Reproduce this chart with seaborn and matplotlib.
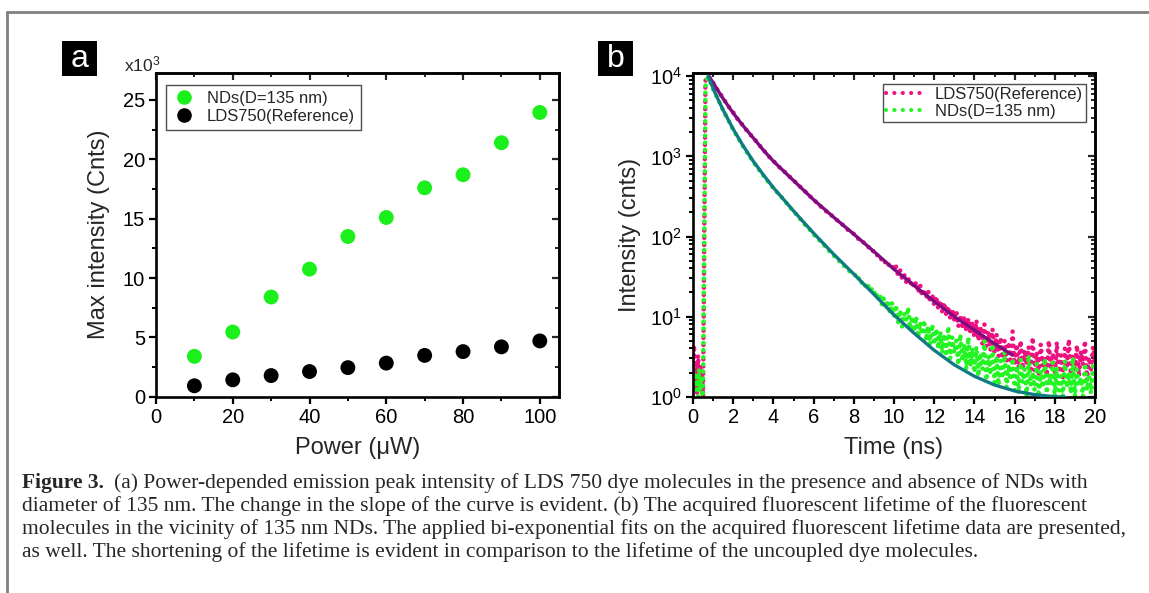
import numpy as np
import pandas as pd
import matplotlib
matplotlib.use("Agg")
import matplotlib.pyplot as plt
import seaborn as sns
from matplotlib.lines import Line2D
from matplotlib.patches import Rectangle
from matplotlib.ticker import MultipleLocator, LogLocator, NullFormatter, LogFormatterMathtext

# ---------------- Panel a data ----------------
power_uw = [10, 20, 30, 40, 50, 60, 70, 80, 90, 100]
nds_max_k = [3.4, 5.45, 8.4, 10.75, 13.5, 15.1, 17.6, 18.7, 21.4, 23.95]
lds_max_k = [0.92, 1.42, 1.78, 2.12, 2.45, 2.83, 3.48, 3.8, 4.2, 4.7]
label_nds = "NDs(D=135 nm)"
label_lds = "LDS750(Reference)"

# ---------------- Panel b data ----------------
t_pre = [0.0, 0.05, 0.1, 0.15, 0.2, 0.25, 0.3, 0.35, 0.4, 0.45, 0.5]
t_rise = [0.62, 0.72, 0.8]
t_mid = [1.0, 1.25, 1.5, 1.75, 2.0, 2.25, 2.5, 2.75, 3.0, 3.25, 3.5, 3.75, 4.0, 4.25,
         4.5, 4.75, 5.0, 5.25, 5.5, 5.75, 6.0, 6.25, 6.5, 6.75, 7.0, 7.25, 7.5, 7.75, 8.0]
t_tail = np.round(np.arange(8.1, 20.001, 0.1), 1)

lds_pre = [2.2, 4.4, 1.4, 2.8, 1.1, 3.3, 1.7, 2.5, 1.2, 2.0, 1.0]
lds_rise = [8800, 10100, 9800]
lds_mid = [8300, 6600, 5350, 4250, 3550, 2850, 2420, 1980, 1720, 1430, 1210, 1010, 880, 750,
           665, 575, 505, 435, 385, 328, 292, 248, 222, 192, 177, 152, 137, 118, 108]
lds_tail = [104, 94, 93, 85, 84, 77, 76, 69, 70, 63,
            64, 56, 57, 50, 52, 45, 47, 41, 43, 38,
            42, 33, 38, 30, 34, 27, 31, 25, 28, 23,
            27, 20, 25, 18, 22, 17, 21, 15, 19, 14,
            18, 12.5, 16, 11.5, 15, 10.5, 13.5, 9.5, 12.5, 9,
            12, 7.5, 10.5, 7, 10, 6.5, 9.5, 6, 8.5, 5.5,
            9, 5, 7.5, 4.5, 8, 4.2, 6.5, 3.8, 7, 3.5,
            6, 3.2, 5.5, 3, 5, 2.8, 4.8, 2.6, 6.5, 2.5,
            4.5, 2.3, 5, 2.2, 3.8, 2.5, 4.2, 2, 5.5, 2.1,
            3.6, 1.9, 4.5, 2.4, 3.2, 1.8, 5, 2.2, 3.5, 1.7,
            4.8, 2.0, 3.3, 1.6, 4.0, 2.3, 5.2, 1.9, 3.4, 2.1,
            4.4, 1.8, 3.7, 2.5, 5.0, 1.6, 3.1, 2.2, 4.2, 2.6]

nds_pre = [1.5, 1.1, 2.0, 1.3, 1.8, 1.0, 2.2, 1.2, 1.6, 1.0, 1.1]
nds_rise = [8200, 9600, 9300]
nds_mid = [6900, 5150, 3750, 2850, 2150, 1680, 1320, 1060, 850, 695, 575, 478, 398, 342,
           292, 243, 205, 176, 146, 127, 106, 92, 79, 67, 58, 50, 43.5, 37.5, 33]
nds_tail = [33, 29, 31, 26, 27, 23, 25, 21, 22, 19,
            21, 16, 19, 14, 17, 13, 16, 11, 15, 10,
            14, 8.5, 12, 7.5, 11, 9, 13, 7, 10, 6.5,
            10, 5.5, 8.5, 6, 9, 5, 7.5, 4.5, 8, 4.5,
            7, 4, 6.5, 3.5, 6, 3.2, 7.5, 3, 5.5, 3.5,
            5, 2.5, 6, 2.8, 4.5, 2.2, 5.5, 2.4, 4, 2,
            4.2, 1.8, 3.5, 2.2, 5, 1.6, 3.2, 1.9, 4.5, 1.5,
            3.2, 1.4, 2.8, 1.7, 3.6, 1.3, 2.5, 1.6, 3.0, 1.2,
            2.4, 1.1, 2.9, 1.5, 2.2, 1.0, 3.3, 1.4, 2.0, 1.2,
            2.6, 1.0, 2.1, 1.3, 3.0, 1.1, 1.9, 1.4, 2.7, 1.0,
            2.3, 1.2, 1.8, 1.0, 2.8, 1.3, 2.0, 1.1, 3.1, 1.0,
            2.2, 1.4, 1.7, 1.0, 2.6, 1.2, 1.9, 1.1, 2.4, 1.3]

lds_fit_t = [0.8, 1.0, 1.25, 1.5, 2.0, 2.5, 3.0, 3.5, 4.0, 5.0, 6.0, 7.0, 8.0, 9.0, 10.0,
             11.0, 12.0, 13.0, 14.0, 15.0, 15.9]
lds_fit_y = [10000, 8300, 6600, 5250, 3470, 2400, 1700, 1200, 870, 500, 288, 174, 107, 65,
             39, 24.5, 15.5, 10.0, 6.8, 4.6, 3.3]
nds_fit_t = [0.75, 1.0, 1.25, 1.5, 2.0, 2.5, 3.0, 3.5, 4.0, 5.0, 6.0, 7.0, 8.0, 9.0, 10.0,
             11.0, 12.0, 13.0, 14.0, 15.0, 16.0, 17.0, 18.0, 18.5]
nds_fit_y = [10000, 7080, 5130, 3800, 2190, 1350, 870, 590, 407, 209, 110, 60, 34, 19, 10.5,
             6.2, 3.8, 2.5, 1.8, 1.4, 1.18, 1.06, 1.0, 0.99]

caption_lines = [
    "(a) Power-depended emission peak intensity of LDS 750 dye molecules in the presence and absence of NDs with",
    "diameter of 135 nm. The change in the slope of the curve is evident. (b) The acquired fluorescent lifetime of the fluorescent",
    "molecules in the vicinity of 135 nm NDs. The applied bi-exponential fits on the acquired fluorescent lifetime data are presented,",
    "as well. The shortening of the lifetime is evident in comparison to the lifetime of the uncoupled dye molecules.",
]

# ---------------- style ----------------
sns.set_theme(style="ticks")
plt.rcParams["font.family"] = ["Liberation Sans", "DejaVu Sans"]
plt.rcParams["mathtext.fontset"] = "custom"
plt.rcParams["mathtext.rm"] = "Liberation Sans"
plt.rcParams["mathtext.it"] = "Liberation Sans:italic"
plt.rcParams["mathtext.bf"] = "Liberation Sans:bold"

GREEN_A = "#1cf01c"
PINK = "#ee1280"
GREEN_B = "#22f522"
PURPLE = "#800a80"
TEAL = "#0e7c82"

W, H = 1149, 593
fig = plt.figure(figsize=(W / 100, H / 100), dpi=100)
fig.patch.set_facecolor("white")


def fx(px):
    return px / W


def fy(py):
    return 1 - py / H


# frame of the figure
fig.add_artist(Line2D([fx(7), fx(7)], [fy(12), 0], transform=fig.transFigure, color="#808080", lw=2))
fig.add_artist(Line2D([fx(7), 1], [fy(12), fy(12)], transform=fig.transFigure, color="#808080", lw=2))

ax_a = fig.add_axes([fx(156), fy(396.7), (559 - 156) / W, (396.7 - 72.7) / H])
ax_b = fig.add_axes([fx(693), fy(396.7), (1095 - 693) / W, (396.7 - 73) / H])


def style_axes(ax):
    for s in ax.spines.values():
        s.set_linewidth(1.9)
        s.set_color("black")
        s.set_visible(True)
    ax.set_facecolor("white")
    ax.grid(False)
    ax.tick_params(which="major", direction="out", length=5, width=1.6, labelsize=14.5,
                   pad=3, top=False, right=False, colors="black")
    ax.tick_params(which="minor", direction="out", length=3, width=1.4, top=False, right=False,
                   colors="black")


def mirror(ax, major_x, minor_x, major_y, minor_y):
    sx = ax.secondary_xaxis("top")
    sx.xaxis.set_major_locator(major_x)
    sx.xaxis.set_minor_locator(minor_x)
    sx.xaxis.set_major_formatter(NullFormatter())
    sx.xaxis.set_minor_formatter(NullFormatter())
    sx.tick_params(which="major", direction="in", length=5, width=1.6)
    sx.tick_params(which="minor", direction="in", length=3, width=1.4)
    sx.spines["top"].set_linewidth(1.9)
    sy = ax.secondary_yaxis("right")
    sy.yaxis.set_major_locator(major_y)
    sy.yaxis.set_minor_locator(minor_y)
    sy.yaxis.set_major_formatter(NullFormatter())
    sy.yaxis.set_minor_formatter(NullFormatter())
    sy.tick_params(which="major", direction="in", length=5, width=1.6)
    sy.tick_params(which="minor", direction="in", length=3, width=1.4)
    sy.spines["right"].set_linewidth(1.9)


# ---------------- Panel a ----------------
df_a = pd.DataFrame({
    "Power": power_uw + power_uw,
    "Intensity": nds_max_k + lds_max_k,
    "Series": [label_nds] * len(power_uw) + [label_lds] * len(power_uw),
})
sns.scatterplot(data=df_a, x="Power", y="Intensity", hue="Series",
                palette={label_nds: GREEN_A, label_lds: "black"},
                s=115, linewidth=0, ax=ax_a, legend=False, zorder=3)
ax_a.set_xlim(0, 105)
ax_a.set_ylim(0, 27.3)
style_axes(ax_a)
ax_a.xaxis.set_major_locator(MultipleLocator(20))
ax_a.xaxis.set_minor_locator(MultipleLocator(10))
ax_a.yaxis.set_major_locator(MultipleLocator(5))
ax_a.yaxis.set_minor_locator(MultipleLocator(2.5))
ax_a.set_xlabel("Power (\u03bcW)", fontsize=17)
ax_a.set_ylabel("Max intensity (Cnts)", fontsize=17)
ax_a.xaxis.set_label_coords(0.5, -0.125)
ax_a.yaxis.set_label_coords(-0.115, 0.5)
mirror(ax_a, MultipleLocator(20), MultipleLocator(10), MultipleLocator(5), MultipleLocator(2.5))

handles_a = [
    Line2D([], [], marker="o", linestyle="none", markersize=10.5, markerfacecolor=GREEN_A,
           markeredgewidth=0, label=label_nds),
    Line2D([], [], marker="o", linestyle="none", markersize=10.5, markerfacecolor="black",
           markeredgewidth=0, label=label_lds),
]
leg_a = ax_a.legend(handles=handles_a, loc="upper left", bbox_to_anchor=(fx(166), fy(85)),
                    bbox_transform=fig.transFigure, fontsize=12, frameon=True, fancybox=False,
                    borderpad=0.35, handlelength=1.5, handletextpad=0.6, labelspacing=0.2,
                    borderaxespad=0)
leg_a.get_frame().set_edgecolor("#222222")
leg_a.get_frame().set_linewidth(1.0)

fig.text(fx(124), fy(64), r"x10$^{3}$", fontsize=12.5, va="center", ha="left")

# ---------------- Panel b ----------------
lds_t = t_pre + t_rise + t_mid + list(t_tail)
lds_y = lds_pre + lds_rise + lds_mid + lds_tail
nds_t = t_pre + t_rise + t_mid + list(t_tail)
nds_y = nds_pre + nds_rise + nds_mid + nds_tail

dotted = (0, (0.01, 1.55))
sns.lineplot(x=lds_t, y=lds_y, ax=ax_b, color=PINK, linewidth=3.3, linestyle=dotted,
             dash_capstyle="round", estimator=None, sort=False, zorder=2)
sns.lineplot(x=nds_t, y=nds_y, ax=ax_b, color=GREEN_B, linewidth=3.3, linestyle=dotted,
             dash_capstyle="round", estimator=None, sort=False, zorder=2.5)
sns.lineplot(x=lds_fit_t, y=lds_fit_y, ax=ax_b, color=PURPLE, linewidth=2.4,
             estimator=None, sort=False, zorder=3)
sns.lineplot(x=nds_fit_t, y=nds_fit_y, ax=ax_b, color=TEAL, linewidth=2.4,
             estimator=None, sort=False, zorder=3)
ax_b.set_yscale("log")
ax_b.set_xlim(0, 20)
ax_b.set_ylim(1, 1.1e4)
style_axes(ax_b)
ax_b.xaxis.set_major_locator(MultipleLocator(2))
ax_b.xaxis.set_minor_locator(MultipleLocator(1))
ax_b.yaxis.set_major_locator(LogLocator(base=10))
ax_b.yaxis.set_minor_locator(LogLocator(base=10, subs=np.arange(2, 10)))
ax_b.yaxis.set_major_formatter(LogFormatterMathtext())
ax_b.yaxis.set_minor_formatter(NullFormatter())
ax_b.set_xlabel("Time (ns)", fontsize=17)
ax_b.set_ylabel("Intensity (cnts)", fontsize=17)
ax_b.xaxis.set_label_coords(0.5, -0.125)
ax_b.yaxis.set_label_coords(-0.13, 0.5)
mirror(ax_b, MultipleLocator(2), MultipleLocator(1), LogLocator(base=10),
       LogLocator(base=10, subs=np.arange(2, 10)))

handles_b = [
    Line2D([], [], color=PINK, linewidth=3.0, linestyle=(0, (0.01, 2.0)), dash_capstyle="round",
           label=label_lds),
    Line2D([], [], color=GREEN_B, linewidth=3.0, linestyle=(0, (0.01, 2.0)), dash_capstyle="round",
           label=label_nds),
]
leg_b = ax_b.legend(handles=handles_b, loc="upper left", bbox_to_anchor=(fx(883), fy(84)),
                    bbox_transform=fig.transFigure, fontsize=12, frameon=True, fancybox=False,
                    borderpad=0.2, handlelength=2.3, handletextpad=0.6, labelspacing=0.1,
                    borderaxespad=0)
leg_b.get_frame().set_edgecolor("#222222")
leg_b.get_frame().set_linewidth(1.0)

# ---------------- panel letters ----------------
for letter, x0 in (("a", 62), ("b", 598)):
    fig.add_artist(Rectangle((fx(x0), fy(76)), 35 / W, 35 / H, transform=fig.transFigure,
                             facecolor="black", edgecolor="none"))
    fig.text(fx(x0 + 17.5), fy(59), letter, color="white", fontsize=23, ha="center",
             va="center")

# ---------------- caption ----------------
renderer = fig.canvas.get_renderer()
serif = ["Liberation Serif", "DejaVu Serif"]
baselines = [488, 511, 534, 557]
probe = fig.text(fx(22), fy(baselines[2]), caption_lines[2], fontsize=13.5, family=serif,
                 va="baseline")
w3 = probe.get_window_extent(renderer).width
cap_fs = 13.5 * 1103.0 / w3
probe.set_fontsize(cap_fs)
bold = fig.text(fx(22), fy(baselines[0]), "Figure 3.", fontsize=cap_fs, family=serif,
                weight="bold", va="baseline")
bw = bold.get_window_extent(renderer).width
fig.text(fx(22 + bw + 10), fy(baselines[0]), caption_lines[0], fontsize=cap_fs, family=serif,
         va="baseline")
fig.text(fx(22), fy(baselines[1]), caption_lines[1], fontsize=cap_fs, family=serif, va="baseline")
fig.text(fx(22), fy(baselines[3]), caption_lines[3], fontsize=cap_fs, family=serif, va="baseline")

fig.savefig("out.png", dpi=100, facecolor="white")
